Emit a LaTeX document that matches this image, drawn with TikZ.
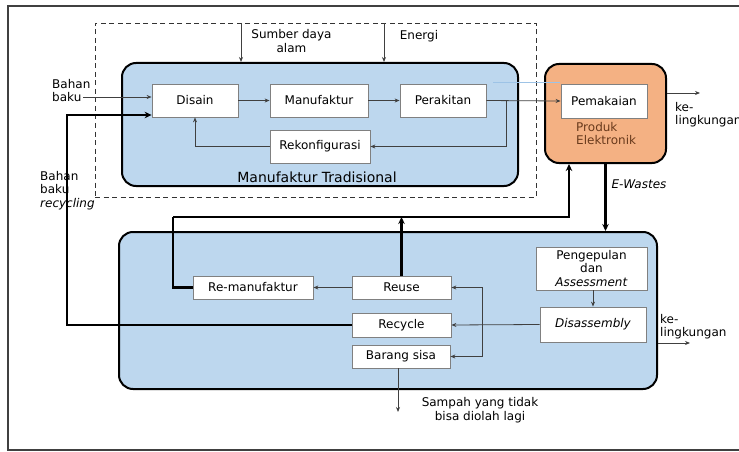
\documentclass[tikz,border=0pt]{standalone}
\usepackage{fontspec}
\setmainfont{DejaVu Sans}
\usetikzlibrary{arrows.meta}
\definecolor{panelblue}{HTML}{BDD7EE}
\definecolor{panelorange}{HTML}{F4B183}
\definecolor{prodtext}{RGB}{105,58,28}
\definecolor{strayblue}{HTML}{9DC3E6}
\newcommand{\boxfont}{\fontsize{12}{13.5}\selectfont}

\begin{document}
\begin{tikzpicture}[x=1pt, y=-1pt]
    \tikzset{
        proc/.style={
            draw=gray, fill=white, line width=0.8pt,
            minimum height=33, inner sep=0pt, font=\boxfont
        },
        panel/.style={
            draw=black, line width=2pt,
            rounded corners=14pt, inner sep=0pt
        },
        flow/.style={
            draw=black!75, line width=0.8pt,
            -{Stealth[length=5pt, width=4pt]}
        },
        heavy/.style={
            draw=black, line width=2.2pt,
            -{Stealth[length=7pt, width=6.5pt]}
        },
        lbl/.style={font=\boxfont, inner sep=0pt, align=left},
    }
    \useasboundingbox (0,0) rectangle (739,452);

    % ==== Outer frame ====
    \draw[draw=black!75, line width=1.2pt] (739,6) -- (8,6) -- (8,450) -- (739,450);

    % ==== Panels ====
    \node[draw=black!80, dashed, line width=0.9pt, dash pattern=on 5pt off 3.5pt,
          minimum width=441, minimum height=174] (scopebox) at (315.5,110) {};
    \node[panel, fill=panelblue, minimum width=396, minimum height=123] (tradisi) at (320,124.5) {};
    \node[panel, fill=panelorange, minimum width=121, minimum height=99] (produk) at (605.5,113.5) {};
    \node[panel, fill=panelblue, minimum width=538, minimum height=157] (lower) at (388,310.5) {};

    % ==== Traditional manufacturing ====
    \node[proc, minimum width=86] (disain) at (195,100.5) {Disain};
    \node[proc, minimum width=98] (manu) at (319,100.5) {Manufaktur};
    \node[proc, minimum width=86] (rakit) at (443,100.5) {Perakitan};
    \node[proc, minimum width=100] (rekon) at (320,146.5) {Rekonfigurasi};
    \node[font=\fontsize{14}{16}\selectfont, inner sep=0pt] (tradlbl) at (317,177) {Manufaktur Tradisional};

    % ==== Product ====
    \node[proc, minimum width=86, minimum height=34] (pakai) at (604,101) {Pemakaian};
    \node[lbl, text=prodtext, anchor=west] (prodlbl) at (576,133.5) {Produk\\Elektronik};

    % ==== E-waste processing ====
    \node[proc, minimum width=120, minimum height=23] (remanu) at (253,287.5) {Re-manufaktur};
    \node[proc, minimum width=99, minimum height=23] (reuse) at (401.5,287.5) {Reuse};
    \node[proc, minimum width=99, minimum height=24] (recycle) at (401.5,325) {Recycle};
    \node[proc, minimum width=98, minimum height=23] (barang) at (401,356.5) {Barang sisa};
    \node[proc, minimum width=111, minimum height=43, align=center] (kumpul) at (591.5,268.5)
        {Pengepulan\\dan\\\textit{Assessment}};
    \node[proc, minimum width=106, minimum height=35] (bongkar) at (593,324.5) {\textit{Disassembly}};

    % ==== Labels ====
    \node[lbl, align=center] (sumber) at (291.5,41) {Sumber daya\\alam};
    \node[lbl] (energi) at (419,36) {Energi};
    \node[lbl, anchor=west] (bahan) at (52,90.5) {Bahan\\baku};
    \node[lbl, anchor=west] (bahanrc) at (40,190.5) {Bahan\\baku\\\textit{recycling}};
    \node[lbl] (ewaste) at (639,184) {\textit{E-Wastes}};
    \node[lbl, anchor=west] (keling1) at (675,114.5) {ke-\\lingkungan};
    \node[lbl, anchor=west] (keling2) at (660,326.5) {ke-\\lingkungan};
    \node[lbl, align=center] (sampah) at (480,410) {Sampah yang tidak\\bisa diolah lagi};

    % ==== Free ends ====
    \coordinate (src) at (241,23);
    \coordinate (nrg) at (384,23);
    \coordinate (bbin) at (83,97);
    \coordinate (rcy) at (67,115);
    \coordinate (fb) at (506,100.5);
    \coordinate (out1) at (700,93);
    \coordinate (out2) at (690,343);
    \coordinate (ret) at (173,217);
    \coordinate (br) at (482,325);
    \coordinate (trash) at (398,412);
    \coordinate (stray1) at (493,82);
    \coordinate (stray2) at (560,82);

    % ==== Inputs ====
    \draw[flow] (src) -- (src |- tradisi.north);
    \draw[flow] (nrg) -- (nrg |- tradisi.north);
    \draw[flow] (bbin) -- (disain.west |- bbin);
    \draw[strayblue, line width=0.8pt] (stray1) -- (stray2);

    % ==== Manufacturing chain ====
    \draw[flow] (disain) -- (manu);
    \draw[flow] (manu) -- (rakit);
    \draw[flow] (rakit.east) -- (pakai.west);
    \draw[flow] (fb) |- (rekon.east);
    \draw[flow] (rekon.west) -| (disain.south);
    \draw[flow] (out1 -| produk.east) -- (out1);

    % ==== Thick loops ====
    \draw[heavy] (produk.south) -- (produk.south |- lower.north);
    \draw[heavy, -] (remanu.west) -| (ret);
    \draw[heavy] (ret) -| ([xshift=-36.5pt]produk.south);
    \draw[heavy] (reuse.north) -- (reuse.north |- ret);
    \draw[heavy] (recycle.west) -| (rcy) -- (disain.west |- rcy);

    % ==== E-waste flows ====
    \draw[flow] (reuse.west) -- (remanu.east);
    \draw[flow] (bongkar.north |- kumpul.south) -- (bongkar.north);
    \draw[flow] (bongkar.west) -- (recycle.east);
    \draw[flow] (br) |- (reuse.east);
    \draw[flow] (br) |- (barang.east);
    \draw[flow] (barang.south -| trash) -- (trash);
    \draw[flow] (out2 -| lower.east) -- (out2);
\end{tikzpicture}
\end{document}
